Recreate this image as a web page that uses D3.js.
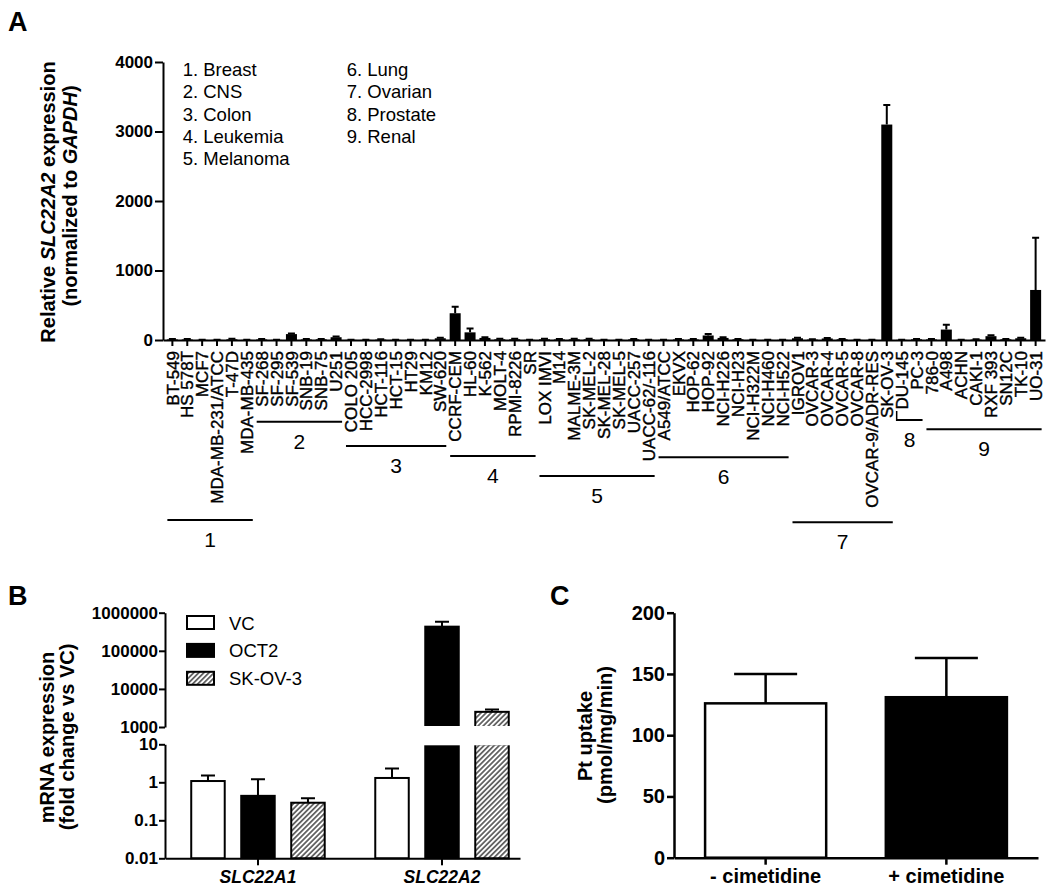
<!DOCTYPE html>
<html>
<head>
<meta charset="utf-8">
<script src="https://cdn.jsdelivr.net/npm/d3@7"></script>
<style>
  body { margin: 0; background: #fff; }
  svg { font-family: "Liberation Sans", Arial, sans-serif; background: #fff; }
</style>
</head>
<body>
<svg id="fig" width="1050" height="892"></svg>
<script>
// ---- panel A data ----
var cellLines = ["BT-549", "HS 578T", "MCF7", "MDA-MB-231/ATCC", "T-47D", "MDA-MB-435",
  "SF-268", "SF-295", "SF-539", "SNB-19", "SNB-75", "U251",
  "COLO 205", "HCC-2998", "HCT-116", "HCT-15", "HT29", "KM12", "SW-620",
  "CCRF-CEM", "HL-60", "K-562", "MOLT-4", "RPMI-8226", "SR",
  "LOX IMVI", "M14", "MALME-3M", "SK-MEL-2", "SK-MEL-28", "SK-MEL-5", "UACC-257", "UACC-62/-116",
  "A549/ATCC", "EKVX", "HOP-62", "HOP-92", "NCI-H226", "NCI-H23", "NCI-H322M", "NCI-H460", "NCI-H522",
  "IGROV1", "OVCAR-3", "OVCAR-4", "OVCAR-5", "OVCAR-8", "OVCAR-9/ADR-RES", "SK-OV-3",
  "DU-145", "PC-3",
  "786-0", "A498", "ACHN", "CAKI-1", "RXF 393", "SN12C", "TK-10", "UO-31"];
var cellValues = [8, 8, 2, 2, 10, 2,
  8, 2, 85, 8, 10, 40,
  2, 2, 6, 2, 2, 2, 25,
  385, 110, 30, 10, 10, 2,
  10, 8, 10, 10, 2, 2, 10, 2,
  2, 8, 8, 65, 30, 10, 2, 2, 2,
  25, 6, 22, 10, 2, 2, 3100,
  2, 10,
  8, 150, 2, 6, 55, 10, 25, 720];
var cellErrors = [6, 6, 1, 1, 8, 1,
  6, 1, 10, 6, 6, 10,
  1, 1, 5, 1, 1, 1, 8,
  95, 55, 8, 8, 8, 1,
  8, 6, 8, 8, 1, 1, 6, 1,
  1, 6, 6, 20, 8, 6, 1, 1, 1,
  8, 5, 8, 6, 1, 1, 280,
  1, 6,
  6, 70, 1, 5, 15, 6, 8, 750];
var tissueNames = ["Breast", "CNS", "Colon", "Leukemia", "Melanoma", "Lung", "Ovarian", "Prostate", "Renal"];
var tissueCounts = [6, 6, 7, 6, 8, 9, 7, 2, 8];
var aTicks = [0, 1000, 2000, 3000, 4000];

// ---- panel B data ----
var genes = ["SLC22A1", "SLC22A2"];
var bSeries = ["VC", "OCT2", "SK-OV-3"];
var vcMean = [1.08, 1.3], vcErr = [0.42, 1.0];
var oct2Mean = [0.44, 430000], oct2Err = [0.76, 150000];
var skov3Mean = [0.29, 2500], skov3Err = [0.09, 400];
var bTicksUpper = [1000, 10000, 100000, 1000000];
var bTicksLower = [0.01, 0.1, 1, 10];

// ---- panel C data ----
var cConditions = ["- cimetidine", "+ cimetidine"];
var cMeans = [126, 131];
var cErrors = [24, 32];
var cTicks = [0, 50, 100, 150, 200];

var svg = d3.select("#fig");

var defs = svg.append("defs");
defs.append("pattern").attr("id", "hatch")
  .attr("patternUnits", "userSpaceOnUse").attr("width", 3.6).attr("height", 3.6)
  .attr("patternTransform", "rotate(45)")
  .call(function(p) {
    p.append("rect").attr("width", 3.6).attr("height", 3.6).attr("fill", "#fff");
    p.append("line").attr("x1", 1.8).attr("x2", 1.8).attr("y1", 0).attr("y2", 3.6)
      .attr("stroke", "#000").attr("stroke-width", 1.1);
  });

function styleAxis(g, w, size, weight) {
  g.select(".domain").attr("stroke", "#000").attr("stroke-width", w);
  g.selectAll(".tick line").attr("stroke", "#000").attr("stroke-width", w);
  g.selectAll(".tick text").attr("fill", "#000").style("font-size", size + "px").style("font-weight", weight);
}

function panelLetter(t, x, y) {
  svg.append("text").attr("x", x).attr("y", y).text(t)
    .style("font-size", "27px").style("font-weight", "bold");
}

// ================= PANEL A =================
panelLetter("A", 8, 31);
var A = svg.append("g");
var xA = d3.scaleBand().domain(cellLines).range([163, 1045]).paddingInner(0.26).paddingOuter(0.26);
var yA = d3.scaleLinear().domain([0, 4000]).range([340, 62]);

A.selectAll("rect.bar").data(cellLines).enter().append("rect")
  .attr("class", "bar")
  .attr("x", function(d) { return xA(d); })
  .attr("width", xA.bandwidth())
  .attr("y", function(d, i) { return yA(cellValues[i]); })
  .attr("height", function(d, i) { return yA(0) - yA(cellValues[i]); })
  .attr("fill", "#000");

A.selectAll("path.err").data(cellLines).enter().append("path")
  .attr("class", "err")
  .attr("d", function(d, i) {
    var cx = xA(d) + xA.bandwidth() / 2;
    var y0 = yA(cellValues[i]), y1 = yA(cellValues[i] + cellErrors[i]);
    return "M" + cx + "," + y0 + "V" + y1 + "M" + (cx - 3.5) + "," + y1 + "H" + (cx + 3.5);
  })
  .attr("stroke", "#000").attr("stroke-width", 2).attr("fill", "none");

A.append("g").attr("transform", "translate(163,0)")
  .call(d3.axisLeft(yA).tickValues(aTicks).tickFormat(d3.format("d")).tickSize(8).tickPadding(2).tickSizeOuter(0))
  .call(styleAxis, 2, 17, "bold");

var xAxisA = A.append("g").attr("transform", "translate(0,340)")
  .call(d3.axisBottom(xA).tickSize(6).tickSizeOuter(0))
  .call(styleAxis, 2, 17, "normal");
xAxisA.selectAll(".tick text")
  .attr("y", 0).attr("x", -11).attr("dy", "0.36em")
  .attr("transform", "rotate(-90)")
  .attr("stroke", "#000").attr("stroke-width", 0.4)
  .style("text-anchor", "end");

// y title
var yTitleA = A.append("text").attr("transform", "translate(55,202) rotate(-90)")
  .attr("text-anchor", "middle").style("font-size", "20px").style("font-weight", "bold");
yTitleA.append("tspan").text("Relative ");
yTitleA.append("tspan").text("SLC22A2").style("font-style", "italic");
yTitleA.append("tspan").text(" expression");
var yTitleA2 = A.append("text").attr("transform", "translate(77,196) rotate(-90)")
  .attr("text-anchor", "middle").style("font-size", "20px").style("font-weight", "bold");
yTitleA2.append("tspan").text("(normalized to  ");
yTitleA2.append("tspan").text("GAPDH").style("font-style", "italic");
yTitleA2.append("tspan").text(")");

// legend of tissue numbers
A.selectAll("text.leg").data(tissueNames).enter().append("text")
  .attr("class", "leg")
  .attr("x", function(d, i) { return i < 5 ? 182.7 : 346.7; })
  .attr("y", function(d, i) { return 76 + (i % 5) * 22.3; })
  .style("font-size", "18.5px")
  .text(function(d, i) { return (i + 1) + ". " + d; });

// group brackets
var groupLineY = [520, 421.7, 446, 456, 476, 457.3, 522.3, 420, 429.3];
var start = 0;
var groups = tissueCounts.map(function(c, i) {
  var g = { id: i + 1, first: cellLines[start], last: cellLines[start + c - 1], y: groupLineY[i] };
  start += c;
  return g;
});
groups.forEach(function(g) {
  var x1 = xA(g.first) + xA.bandwidth() / 2 - 5;
  var x2 = xA(g.last) + xA.bandwidth() / 2 + 6;
  A.append("line").attr("x1", x1).attr("x2", x2).attr("y1", g.y).attr("y2", g.y)
    .attr("stroke", "#000").attr("stroke-width", 2);
  A.append("text").attr("x", (x1 + x2) / 2).attr("y", g.y + 27)
    .attr("text-anchor", "middle").style("font-size", "21px").text(g.id);
});
// small vertical stub next to the prostate bracket
var g8x = xA(groups[7].first) + xA.bandwidth() / 2 - 5;
A.append("line").attr("x1", g8x).attr("x2", g8x).attr("y1", 411).attr("y2", 421)
  .attr("stroke", "#000").attr("stroke-width", 1.5);

// ================= PANEL B =================
panelLetter("B", 8, 605);
var B = svg.append("g");
var x0B = d3.scaleBand().domain(genes).range([165, 520]).paddingInner(0.185).paddingOuter(0.057).align(0.857);
var x1B = d3.scaleBand().domain(bSeries).range([0, x0B.bandwidth()]).paddingInner(0.33).paddingOuter(0.165);
var yBu = d3.scaleLog().domain([1000, 1e6]).range([727, 612.7]);
var yBl = d3.scaleLog().domain([0.01, 10]).range([858.3, 744.3]);

var bMeans = [vcMean, oct2Mean, skov3Mean];
var bErrs = [vcErr, oct2Err, skov3Err];
var bFills = ["#fff", "#000", "url(#hatch)"];

var bRows = [];
bSeries.forEach(function(s, si) {
  genes.forEach(function(g, gi) {
    bRows.push({ s: s, si: si, g: g, v: bMeans[si][gi], e: bErrs[si][gi] });
  });
});

function bx(d) { return x0B(d.g) + x1B(d.s); }

// lower segment bars
B.selectAll("rect.low").data(bRows).enter().append("rect")
  .attr("x", bx).attr("width", x1B.bandwidth())
  .attr("y", function(d) { return yBl(Math.min(d.v, 10)); })
  .attr("height", function(d) { return yBl(0.01) - yBl(Math.min(d.v, 10)); })
  .attr("fill", function(d) { return bFills[d.si]; })
  .attr("stroke", "#000").attr("stroke-width", 2);
// upper segment bars
B.selectAll("rect.up").data(bRows.filter(function(d) { return d.v > 1000; })).enter().append("rect")
  .attr("x", bx).attr("width", x1B.bandwidth())
  .attr("y", function(d) { return yBu(d.v); })
  .attr("height", function(d) { return yBu(1000) - yBu(d.v); })
  .attr("fill", function(d) { return bFills[d.si]; })
  .attr("stroke", "#000").attr("stroke-width", 2);
// error bars
B.selectAll("path.err").data(bRows).enter().append("path")
  .attr("d", function(d) {
    var y = d.v > 1000 ? yBu : yBl;
    var cx = bx(d) + x1B.bandwidth() / 2;
    var y0 = y(d.v), y1 = y(d.v + d.e);
    return "M" + cx + "," + y0 + "V" + y1 + "M" + (cx - 7) + "," + y1 + "H" + (cx + 7);
  })
  .attr("stroke", "#000").attr("stroke-width", 2).attr("fill", "none");
// axis break gap
B.append("rect").attr("x", 167).attr("y", 726).attr("width", 360).attr("height", 19.3).attr("fill", "#fff");

B.append("g").attr("transform", "translate(165,0)")
  .call(d3.axisLeft(yBu).tickValues(bTicksUpper).tickFormat(d3.format("d")).tickSize(6).tickPadding(1).tickSizeOuter(0))
  .call(styleAxis, 2, 17, "bold");
B.append("g").attr("transform", "translate(165,0)")
  .call(d3.axisLeft(yBl).tickValues(bTicksLower).tickFormat(function(d) { return String(d); }).tickSize(6).tickPadding(1).tickSizeOuter(0))
  .call(styleAxis, 2, 17, "bold");
B.append("g").attr("transform", "translate(0,858.3)")
  .call(d3.axisBottom(x0B).tickSize(7).tickPadding(5).tickSizeOuter(0))
  .call(styleAxis, 2, 17.5, "bold")
  .selectAll(".tick text").style("font-style", "italic");

B.append("text").attr("transform", "translate(54,737.5) rotate(-90)")
  .attr("text-anchor", "middle").style("font-size", "20px").style("font-weight", "bold")
  .text("mRNA expression");
B.append("text").attr("transform", "translate(74,737) rotate(-90)")
  .attr("text-anchor", "middle").style("font-size", "20px").style("font-weight", "bold")
  .text("(fold change vs VC)");

// legend
var legB = B.selectAll("g.leg").data(bSeries).enter().append("g")
  .attr("transform", function(d, i) { return "translate(187," + (616 + i * 27.9) + ")"; });
legB.append("rect").attr("width", 27).attr("height", 13)
  .attr("fill", function(d, i) { return bFills[i]; })
  .attr("stroke", "#000").attr("stroke-width", 2);
legB.append("text").attr("x", 42).attr("y", 13.5).style("font-size", "18.5px").text(function(d) { return d; });

// ================= PANEL C =================
panelLetter("C", 550, 605);
var C = svg.append("g");
var xC = d3.scaleBand().domain(cConditions).range([674, 1038]).paddingInner(0.33).paddingOuter(0.172);
var yC = d3.scaleLinear().domain([0, 200]).range([857.7, 612.7]);
var cFills = ["#fff", "#000"];

C.selectAll("rect.bar").data(cConditions).enter().append("rect")
  .attr("x", function(d) { return xC(d); }).attr("width", xC.bandwidth())
  .attr("y", function(d, i) { return yC(cMeans[i]); })
  .attr("height", function(d, i) { return yC(0) - yC(cMeans[i]); })
  .attr("fill", function(d, i) { return cFills[i]; })
  .attr("stroke", "#000").attr("stroke-width", 2.5);
C.selectAll("path.err").data(cConditions).enter().append("path")
  .attr("d", function(d, i) {
    var cx = xC(d) + xC.bandwidth() / 2;
    var y0 = yC(cMeans[i]), y1 = yC(cMeans[i] + cErrors[i]);
    return "M" + cx + "," + y0 + "V" + y1 + "M" + (cx - 31.5) + "," + y1 + "H" + (cx + 31.5);
  })
  .attr("stroke", "#000").attr("stroke-width", 2.5).attr("fill", "none");

C.append("g").attr("transform", "translate(674,0)")
  .call(d3.axisLeft(yC).tickValues(cTicks).tickSize(7).tickPadding(2).tickSizeOuter(0))
  .call(styleAxis, 2.5, 20, "bold");
C.append("g").attr("transform", "translate(0,857.7)")
  .call(d3.axisBottom(xC).tickSize(7).tickPadding(4).tickSizeOuter(0))
  .call(styleAxis, 2.5, 20, "bold");

C.append("text").attr("transform", "translate(592,736) rotate(-90)")
  .attr("text-anchor", "middle").style("font-size", "20px").style("font-weight", "bold")
  .text("Pt uptake");
C.append("text").attr("transform", "translate(612,735) rotate(-90)")
  .attr("text-anchor", "middle").style("font-size", "20px").style("font-weight", "bold")
  .text("(pmol/mg/min)");
</script>
</body>
</html>
